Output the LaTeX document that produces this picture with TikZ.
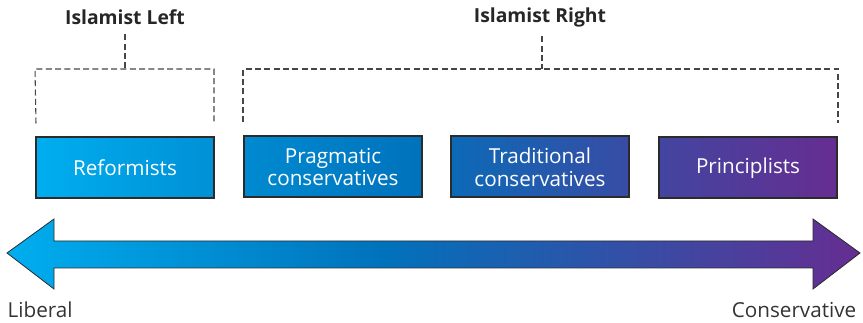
\documentclass[tikz,border=0pt]{standalone}
\usepackage{fontspec}
\setmainfont{Open Sans}
\usetikzlibrary{calc}

\definecolor{libcol}{RGB}{0,174,239}
\definecolor{midcol}{RGB}{0,114,188}
\definecolor{concol}{RGB}{102,45,145}
\definecolor{edgecol}{RGB}{43,43,43}
\definecolor{dashcol}{RGB}{70,70,70}
\pgfdeclarehorizontalshading{spectrum}{100bp}{color(0bp)=(libcol); color(25bp)=(libcol);
    color(47bp)=(midcol); color(75bp)=(concol); color(100bp)=(concol)}

\begin{document}
\begin{tikzpicture}[x=0.75pt,y=-0.75pt,
    group/.style={draw=edgecol,line width=1.5pt,minimum width=133.5pt,minimum height=45.75pt,
        inner sep=0pt,text=white,align=center,font=\fontsize{15.5}{17}\selectfont},
    bracket/.style={dashcol,line width=0.8pt,dash pattern=on 4.5pt off 2.5pt},
    head/.style={font=\fontsize{14.5}{16}\selectfont\bfseries,text=black!85},
    pole/.style={font=\fontsize{15.5}{17}\selectfont,text=black!80}]
    \useasboundingbox (0,0) rectangle (863,323);

    % Groups on the spectrum
    \node[group,left color=libcol,right color=libcol!50!midcol] (refo) at (125,168) {Reformists};
    \node[group,left color=libcol!40!midcol,right color=midcol] (prag) at (333,167) {Pragmatic\\conservatives};
    \node[group,left color=midcol!88!concol,right color=midcol!45!concol] (trad) at (540,167) {Traditional\\conservatives};
    \node[group,left color=midcol!35!concol,right color=concol] (prin) at (748,168) {Principlists};

    % Camp labels
    \node[head] (left) at (125,17) {Islamist Left};
    \node[head] (right) at (540,17) {Islamist Right};
    \coordinate (lt) at (125,69);
    \coordinate (rt) at (542,69);

    % Brackets
    \draw[bracket] ($(refo.north west)+(1,-13)$) -- (refo.north west |- lt)
        -- ($(refo.north east |- lt)+(-1,0)$) -- ($(refo.north east)+(-1,-13)$);
    \draw[bracket] (left.south) ++(0,5) -- (lt);
    \draw[bracket] ($(prag.north west)+(0,-13)$) -- (prag.north west |- lt)
        -- (prin.north east |- lt) -- ($(prin.north east)+(0,-13)$);
    \draw[bracket] (rt |- right.south) ++(0,5) -- (rt);

    % Spectrum arrow
    \draw[edgecol,line width=0.6pt,shading=spectrum]
        (7,253) -- (54,219) -- (54,241) -- (813,241) -- (813,219) -- (860,253)
        -- (813,289) -- (813,268) -- (54,268) -- (54,289) -- cycle;

    % Poles
    \node[pole,anchor=west] (lib) at (3,310) {Liberal};
    \node[pole,anchor=east] (cons) at (861,310) {Conservative};
\end{tikzpicture}
\end{document}
